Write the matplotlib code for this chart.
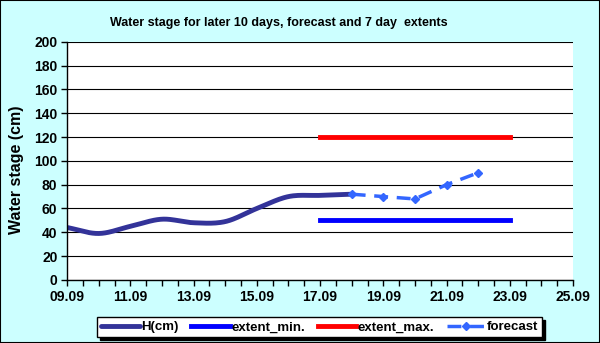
import numpy as np
import matplotlib.pyplot as plt
from matplotlib.patches import Rectangle

plt.rcParams['font.family'] = ['Liberation Sans', 'DejaVu Sans']
plt.rcParams['font.weight'] = 'bold'

# days counted from 09.09
h_days = [0, 1, 2, 3, 4, 5, 6, 7, 8, 9]
h_values = [44, 39, 45, 51, 48, 49, 60, 70, 71, 72]
fc_days = [9, 10, 11, 12, 13]
fc_values = [72, 70, 68, 80, 90]
ext_days = [8, 14]
ext_min = [50, 50]
ext_max = [120, 120]
tick_labels = ['09.09', '11.09', '13.09', '15.09', '17.09', '19.09', '21.09', '23.09', '25.09']


def smooth(x, y, n=20):
    # Catmull-Rom style smoothing like a spreadsheet "smoothed line"
    x = np.asarray(x, float)
    y = np.asarray(y, float)
    px = np.concatenate([[2 * x[0] - x[1]], x, [2 * x[-1] - x[-2]]])
    py = np.concatenate([[2 * y[0] - y[1]], y, [2 * y[-1] - y[-2]]])
    xs, ys = [], []
    t = np.linspace(0, 1, n, endpoint=False)
    for i in range(1, len(px) - 2):
        for arr, out in ((px, xs), (py, ys)):
            p0, p1, p2, p3 = arr[i - 1], arr[i], arr[i + 1], arr[i + 2]
            out.extend(0.5 * (2 * p1 + (-p0 + p2) * t + (2 * p0 - 5 * p1 + 4 * p2 - p3) * t ** 2
                              + (-p0 + 3 * p1 - 3 * p2 + p3) * t ** 3))
    xs.append(x[-1])
    ys.append(y[-1])
    return xs, ys


fig = plt.figure(figsize=(6, 3.43), dpi=100, facecolor='#ccffff')
fig.patches.append(Rectangle((0, 0), 1, 1, transform=fig.transFigure, fill=False,
                             edgecolor='black', linewidth=1.5))
ax = fig.add_axes([0.112, 0.184, 0.843, 0.694])

sx, sy = smooth(h_days, h_values)
l1, = ax.plot(sx, sy, color='#333399', linewidth=3.5, solid_capstyle='round', label='H(cm)')
l2, = ax.plot(ext_days, ext_min, color='#0000ff', linewidth=3.5, label='extent_min.')
l3, = ax.plot(ext_days, ext_max, color='#ff0000', linewidth=3.5, label='extent_max.')
l4, = ax.plot(fc_days, fc_values, color='#3366ff', linewidth=2.5, linestyle=(0, (4, 2.5)),
              marker='D', markersize=4, label='forecast')

ax.set_xlim(0, 16)
ax.set_ylim(0, 200)
ax.set_xticks(np.arange(0, 17, 2))
ax.set_xticklabels(tick_labels, fontweight='bold', fontsize=10)
ax.set_xticks(np.arange(0, 16.5, 0.5), minor=True)
ax.set_yticks(np.arange(0, 201, 20))
ax.set_yticklabels([str(v) for v in range(0, 201, 20)], fontweight='bold', fontsize=10)
ax.yaxis.grid(True, color='black', linewidth=0.8)
ax.set_axisbelow(True)
ax.tick_params(axis='x', which='both', direction='out', length=4, width=1, pad=3)
ax.tick_params(axis='y', direction='out', length=4, width=1, pad=3)
for s in ('top', 'right'):
    ax.spines[s].set_visible(False)
ax.spines['left'].set_linewidth(1)
ax.spines['bottom'].set_linewidth(1)
fig.text(17 / 600, 1 - 170 / 343, 'Water stage (cm)', rotation=90, ha='center', va='center',
         fontsize=11.5, fontweight='bold')
fig.text(0.464, 0.933, 'Water stage for later 10 days, forecast and 7 day  extents',
         ha='center', va='center', fontsize=9, fontweight='bold')

leg = fig.legend(handles=[l1, l2, l3, l4], loc='center', bbox_to_anchor=(0.533, 0.046),
                 ncol=4, prop={'size': 9.5, 'weight': 'bold'}, frameon=True, fancybox=False,
                 shadow={'color': 'black', 'alpha': 1}, numpoints=1,
                 handlelength=2.9, columnspacing=1.0, handletextpad=0.1, borderpad=0.3)
leg.get_frame().set_edgecolor('black')
leg.get_frame().set_linewidth(1)

fig.savefig('out.png', dpi=100, facecolor=fig.get_facecolor())
